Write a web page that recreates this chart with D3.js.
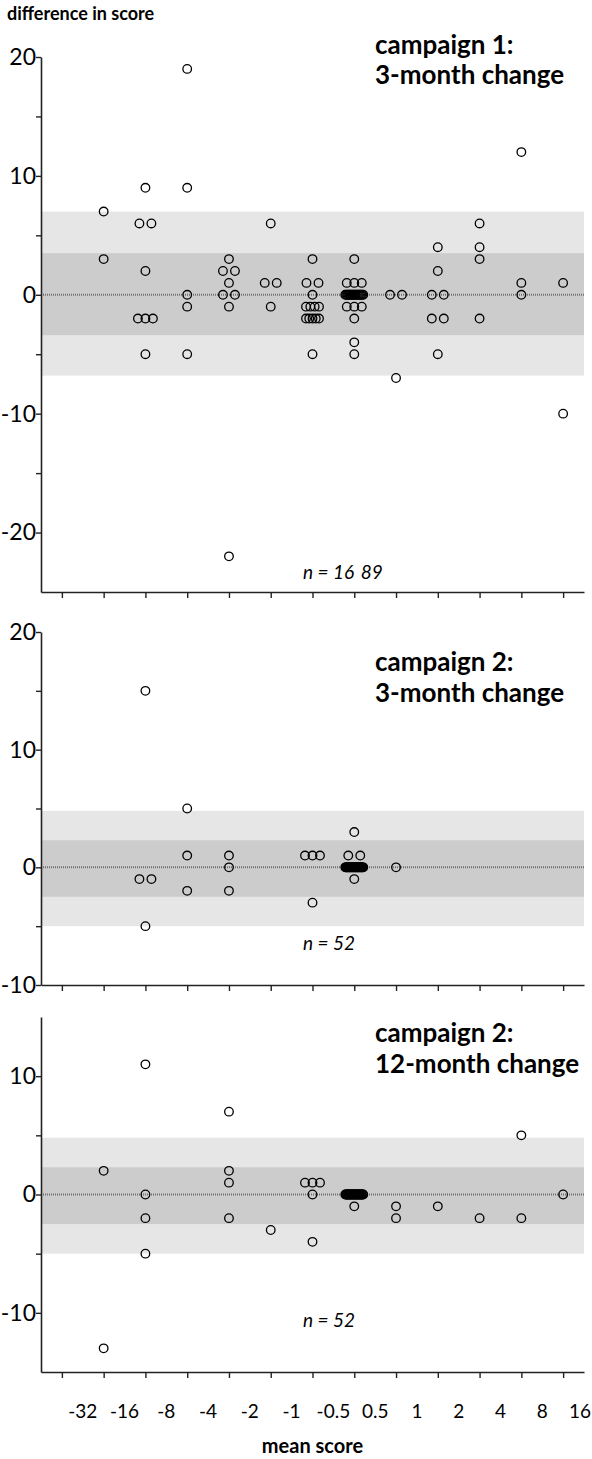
<!DOCTYPE html>
<html>
<head>
<meta charset="utf-8">
<script src="https://cdn.jsdelivr.net/npm/d3@7"></script>
<style>
  html, body { margin: 0; padding: 0; background: #fff; }
  svg { display: block; }
  text { font-family: Lato, "Open Sans", sans-serif; fill: #000; }
</style>
</head>
<body>
<div id="chart"></div>
<script>
// ---------- data ----------
const xTickLabels = ["-32", "-16", "-8", "-4", "-2", "-1", "-0.5", "0.5", "1", "2", "4", "8", "16"];

// values per x-column (index 0..12), one array per panel
const camp1_3m = [
  [],
  [7, 3],
  [9, 6, 6, 2, -2, -2, -2, -5],
  [19, 9, 0, -1, -5],
  [3, 2, 2, 1, 0, 0, -1, -22],
  [6, 1, 1, -1],
  [3, 1, 1, 0, -1, -1, -1, -1, -2, -2, -2, -2, -2, -5],
  [3, 1, 1, 1, 0, 0, 0, 0, 0, 0, 0, 0, 0, 0, 0, 0, 0, 0, 0, 0, 0, 0, -1, -1, -1, -2, -4, -5],
  [0, 0, -7],
  [4, 2, 0, 0, -2, -2, -5],
  [6, 4, 3, -2],
  [12, 1, 0],
  [1, -10]
];
const camp2_3m = [
  [],
  [],
  [15, -1, -1, -5],
  [5, 1, -2],
  [1, 0, -2],
  [],
  [1, 1, 1, -3],
  [3, 1, 1, 0, 0, 0, 0, 0, 0, 0, 0, 0, 0, 0, 0, 0, 0, 0, 0, 0, 0, 0, 0, 0, 0, 0, 0, 0, 0, 0, 0, 0, 0, 0, 0, 0, 0, -1],
  [0],
  [], [], [], []
];
const camp2_12m = [
  [],
  [2, -13],
  [11, 0, -2, -5],
  [],
  [7, 2, 1, -2],
  [-3],
  [1, 1, 1, 0, -4],
  [0, 0, 0, 0, 0, 0, 0, 0, 0, 0, 0, 0, 0, 0, 0, 0, 0, 0, 0, 0, 0, 0, 0, 0, 0, 0, 0, 0, -1],
  [-1, -2],
  [-1],
  [-2],
  [5, -2],
  [0]
];

const panelTitles = [["campaign 1:", "3-month change"], ["campaign 2:", "3-month change"], ["campaign 2:", "12-month change"]];
const panelN = ["n = 16\u2009 89", "n = 52", "n = 52"];
const yDomains = [[-25, 20], [-10, 20], [-15, 15]];
const yTicks = [[20, 15, 10, 5, 0, -5, -10, -15, -20], [20, 15, 10, 5, 0, -5, -10], [10, 5, 0, -5, -10]];
const outerBands = [[-6.8, 7.0], [-5.0, 4.8], [-5.0, 4.8]];
const innerBands = [[-3.4, 3.5], [-2.5, 2.3], [-2.5, 2.3]];
const panelData = [camp1_3m, camp2_3m, camp2_12m];

// ---------- layout ----------
const W = 592, H = 1459;
const left = 41, right = 584;
const panelsPx = [[57, 592], [632, 985], [1017, 1372]];
const titleY = [[45, 75], [662, 693], [1033, 1064]];
const nYVal = [-23.3, -6.4, -10.6];

const svg = d3.select("#chart").append("svg").attr("width", W).attr("height", H);

const x = d3.scaleLinear().domain([-0.5, 12.5]).range([left, right]);

function span(k) {
  if (k <= 1) return 0;
  if (k === 2) return 12;
  if (k === 3) return 15;
  if (k <= 6) return 13;
  return 18;
}

svg.append("text")
  .attr("x", 7).attr("y", 20)
  .attr("font-weight", "bold").attr("font-size", 18)
  .text("difference in score");

panelData.forEach((cols, p) => {
  const [top, bottom] = panelsPx[p];
  const y = d3.scaleLinear().domain(yDomains[p]).range([bottom, top]);
  const g = svg.append("g");

  // bands
  g.append("rect")
    .attr("x", x(-0.5)).attr("width", x(12.5) - x(-0.5))
    .attr("y", y(outerBands[p][1])).attr("height", y(outerBands[p][0]) - y(outerBands[p][1]))
    .attr("fill", "#e6e6e6");
  g.append("rect")
    .attr("x", x(-0.5)).attr("width", x(12.5) - x(-0.5))
    .attr("y", y(innerBands[p][1])).attr("height", y(innerBands[p][0]) - y(innerBands[p][1]))
    .attr("fill", "#cccccc");
  // zero line
  g.append("line")
    .attr("x1", x(-0.5)).attr("x2", x(12.5))
    .attr("y1", y(0)).attr("y2", y(0))
    .attr("stroke", "#707070").attr("stroke-width", 2)
    .attr("stroke-dasharray", "1,1");

  // points
  const pts = [];
  cols.forEach((vals, ci) => {
    const groups = d3.group(vals, v => v);
    groups.forEach((arr, v) => {
      const k = arr.length;
      const s = span(k);
      arr.forEach((_, i) => {
        const off = k > 1 ? (i / (k - 1) - 0.5) * s : 0;
        pts.push({ c: ci, v: v, off: off });
      });
    });
  });
  g.selectAll("circle.pt").data(pts).join("circle")
    .attr("class", "pt")
    .attr("cx", d => x(d.c) + d.off)
    .attr("cy", d => y(d.v))
    .attr("r", 4.3)
    .attr("fill", "none")
    .attr("stroke", "#000")
    .attr("stroke-width", 1.3);

  // y axis
  const ya = g.append("g").attr("transform", `translate(${left},0)`)
    .call(d3.axisLeft(y).tickValues(yTicks[p]).tickSize(5).tickSizeOuter(0)
      .tickFormat(d => d % 10 === 0 ? d : ""));
  ya.select(".domain").attr("stroke", "#222").attr("stroke-width", 1.6);
  ya.selectAll(".tick line").attr("stroke", "#222").attr("stroke-width", 1.4);
  ya.selectAll(".tick text").attr("font-size", 23).attr("font-family", "Lato, sans-serif").attr("fill", "#000").attr("x", -5);

  // x axis
  const xa = g.append("g").attr("transform", `translate(0,${bottom})`)
    .call(d3.axisBottom(x).tickValues(d3.range(13)).tickSize(6).tickSizeOuter(0).tickFormat(""));
  xa.select(".domain").attr("stroke", "#222").attr("stroke-width", 1.6);
  xa.selectAll(".tick line").attr("stroke", "#222").attr("stroke-width", 1.4);

  // titles
  g.selectAll("text.title").data(panelTitles[p]).join("text")
    .attr("class", "title")
    .attr("x", 375)
    .attr("y", (d, i) => titleY[p][i] + 9)
    .attr("font-weight", "bold").attr("font-size", 26)
    .text(d => d);

  // n label
  g.append("text")
    .attr("x", 303).attr("y", y(nYVal[p]) + 7)
    .attr("font-style", "italic").attr("font-size", 19)
    .text(panelN[p]);

  if (p === 2) {
    g.selectAll("text.xl").data(xTickLabels).join("text")
      .attr("class", "xl")
      .attr("x", (d, i) => Math.min(x(i + 0.5), W - 12))
      .attr("y", 1418)
      .attr("text-anchor", "middle")
      .attr("font-size", 19)
      .text(d => d);
    g.append("text")
      .attr("x", (left + right) / 2).attr("y", 1453)
      .attr("text-anchor", "middle")
      .attr("font-weight", "bold").attr("font-size", 20)
      .text("mean score");
  }
});
</script>
</body>
</html>
